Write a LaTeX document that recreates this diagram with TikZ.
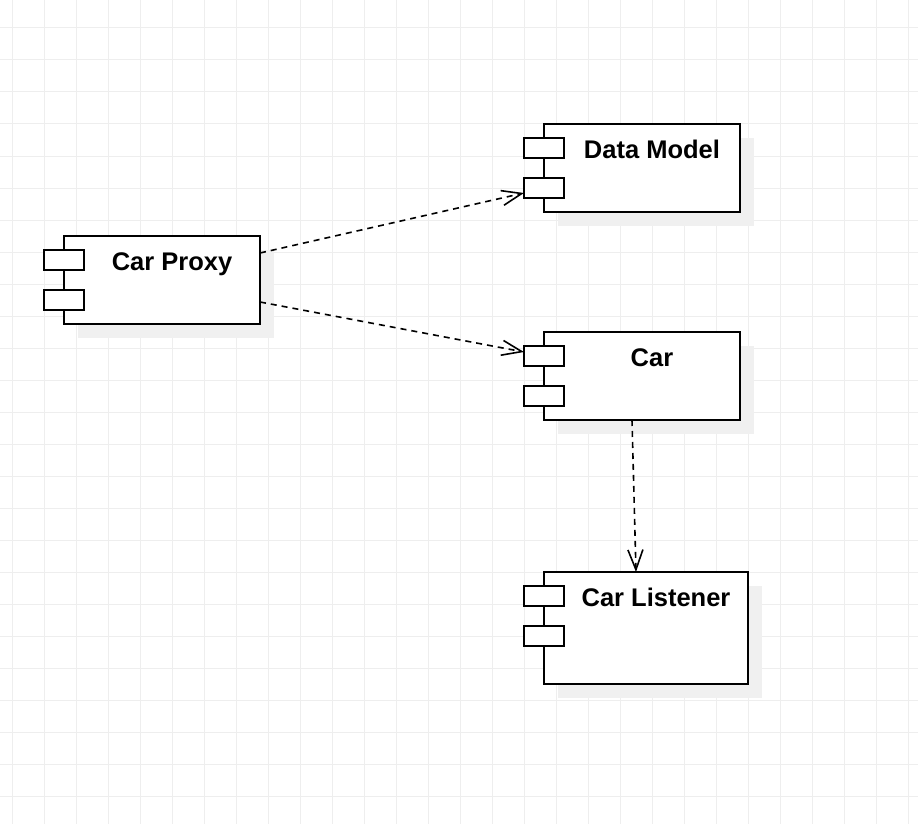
\documentclass[tikz,border=0pt]{standalone}
\usepackage{fontspec}
\setmainfont{Liberation Sans}
\usetikzlibrary{arrows.meta}
\definecolor{gridc}{HTML}{EEEEEE}
\definecolor{shadowc}{HTML}{F0F0F0}
\tikzset{
  gridline/.style={draw=gridc, line width=1pt},
  shadowbox/.style={fill=shadowc, draw=none},
  compbox/.style={draw=black, line width=2pt, fill=white, rectangle, anchor=north west, inner sep=0pt, outer sep=0pt},
  portbox/.style={draw=black, line width=2pt, fill=white, rectangle, anchor=north west, inner sep=0pt, outer sep=0pt, minimum width=40pt, minimum height=20pt},
  lbl/.style={font=\bfseries\fontsize{25.5}{28}\selectfont, inner sep=0pt, anchor=base},
  dep/.style={draw=black, line width=1.6pt, dash pattern=on 6pt off 5pt, -{Straight Barb[length=20pt, width=15pt, line width=1.6pt]}}
}
\begin{document}
\begin{tikzpicture}[x=1pt, y=-1pt]
\useasboundingbox (0,0) rectangle (918,824);
\fill[white] (0,0) rectangle (918,824);
% grid
\foreach \x in {12,44,...,908} \draw[gridline] (\x,0) -- (\x,824);
\foreach \y in {28,60,...,824} \draw[gridline] (0,\y) -- (918,\y);
% shadows
\fill[shadowbox] (78,250) rectangle (274,338);
\fill[shadowbox] (558,138) rectangle (754,226);
\fill[shadowbox] (558,346) rectangle (754,434);
\fill[shadowbox] (558,586) rectangle (762,698);
% Car Proxy
\node[compbox, minimum width=196pt, minimum height=88pt] (proxy) at (64,236) {};
\node[portbox] (proxyp1) at (44,250) {};
\node[portbox] (proxyp2) at (44,290) {};
\node[lbl] (proxyt) at (172,270) {Car Proxy};
% Data Model
\node[compbox, minimum width=196pt, minimum height=88pt] (dm) at (544,124) {};
\node[portbox] (dmp1) at (524,138) {};
\node[portbox] (dmp2) at (524,178) {};
\node[lbl] (dmt) at (652,158) {Data Model};
% Car
\node[compbox, minimum width=196pt, minimum height=88pt] (car) at (544,332) {};
\node[portbox] (carp1) at (524,346) {};
\node[portbox] (carp2) at (524,386) {};
\node[lbl] (cart) at (652,366) {Car};
% Car Listener
\node[compbox, minimum width=204pt, minimum height=112pt] (lis) at (544,572) {};
\node[portbox] (lisp1) at (524,586) {};
\node[portbox] (lisp2) at (524,626) {};
\node[lbl] (list) at (656,606) {Car Listener};
% connectors
\draw[dep] ([yshift=-17pt]proxy.north east) -- ([yshift=-5pt]dmp2.west);
\draw[dep] ([yshift=22pt]proxy.south east) -- ([yshift=4pt]carp1.west);
\draw[dep] ([xshift=-10pt]car.south) -- ([xshift=-10pt]lis.north);
\end{tikzpicture}
\end{document}
